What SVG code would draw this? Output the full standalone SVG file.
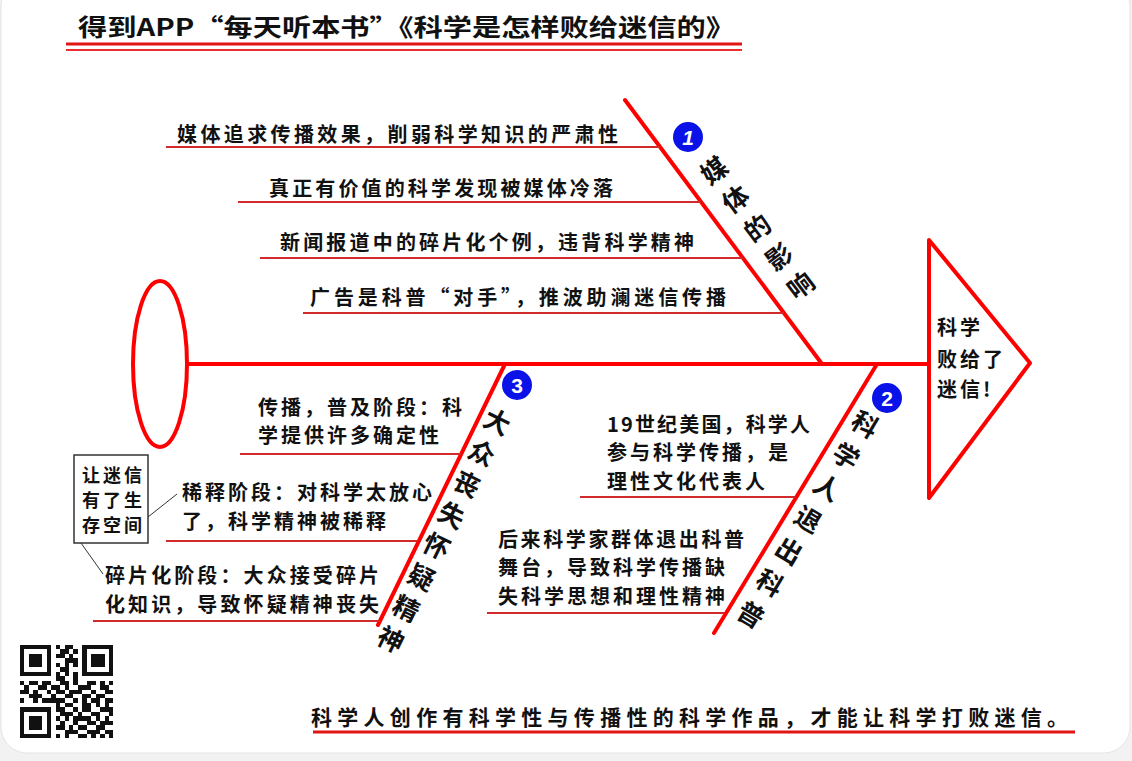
<svg xmlns="http://www.w3.org/2000/svg" width="1132" height="761" viewBox="0 0 1132 761">
<style>
.t{font-family:"Noto Sans CJK SC","Noto Sans",sans-serif;font-weight:700;fill:#111}
.lb{font-size:20px;letter-spacing:3px}
.vt{font-size:26px;writing-mode:vertical-rl}
.red{fill:none;stroke:#f00;stroke-width:4;stroke-linejoin:round;stroke-linecap:round}
.ul{stroke:#d22a2a;stroke-width:2;fill:none}
.num{fill:#0a12e8}
.nt{font-family:"Liberation Sans",Arial,sans-serif;font-weight:700;font-size:21px;fill:#fff;text-anchor:middle}
.thin{stroke:#333;stroke-width:1;fill:none}
</style>
<rect x="0" y="0" width="1132" height="761" fill="#f2f2f2"/>
<rect x="1" y="-20" width="1129" height="773" rx="26" fill="#fff" stroke="#e4e4e4" stroke-width="1"/>

<g id="title">
<text class="t" x="78" y="36" font-size="24" textLength="657" lengthAdjust="spacingAndGlyphs">得到APP“每天听本书”《科学是怎样败给迷信的》</text>
<line x1="66" y1="44" x2="742" y2="44" stroke="#e01515" stroke-width="3"/>
<line x1="66" y1="50" x2="742" y2="50" stroke="#e83030" stroke-width="2"/>
</g>

<g id="connectors">
<line class="red" x1="187" y1="364" x2="928" y2="364" stroke-width="5"/>
<line class="red" x1="625" y1="100" x2="822" y2="364"/>
<line class="red" x1="877" y1="364" x2="714" y2="633"/>
<line class="red" x1="505" y1="364" x2="378" y2="625"/>
</g>

<g id="tail">
<ellipse class="red" cx="160" cy="364" rx="27" ry="83"/>
</g>

<g id="head">
<polygon class="red" points="929,240 1030,363 929,498"/>
<text class="t lb" x="937" y="335">科学</text>
<text class="t lb" x="937" y="367">败给了</text>
<text class="t lb" x="937" y="397">迷信!</text>
</g>

<g id="branch-1">
<circle class="num" cx="688" cy="137" r="15"/>
<text class="nt" x="688" y="145" font-style="italic">1</text>
<text class="t vt" transform="translate(706,160) rotate(-37)" style="letter-spacing:10px">媒体的影响</text>
<line class="ul" x1="166" y1="147" x2="660" y2="147"/>
<line class="ul" x1="238" y1="202" x2="701" y2="202"/>
<line class="ul" x1="260" y1="258" x2="743" y2="258"/>
<line class="ul" x1="303" y1="313" x2="784" y2="313"/>
<text class="t lb" x="177" y="142" textLength="444">媒体追求传播效果，削弱科学知识的严肃性</text>
<text class="t lb" x="269" y="196" textLength="347">真正有价值的科学发现被媒体冷落</text>
<text class="t lb" x="280" y="250" textLength="417">新闻报道中的碎片化个例，违背科学精神</text>
<text class="t lb" x="310" y="305" textLength="419">广告是科普“对手”，推波助澜迷信传播</text>
</g>

<g id="branch-2">
<circle class="num" cx="887" cy="398" r="15"/>
<text class="nt" x="887" y="406">2</text>
<text class="t vt" transform="translate(872,413) rotate(31)" style="letter-spacing:11px">科学人退出科普</text>
<line class="ul" x1="580" y1="497" x2="795" y2="497"/>
<line class="ul" x1="487" y1="613" x2="724" y2="613"/>
<text class="t lb" x="607" y="432" textLength="206">19世纪美国，科学人</text>
<text class="t lb" x="607" y="460">参与科学传播，是</text>
<text class="t lb" x="607" y="489">理性文化代表人</text>
<text class="t lb" x="498" y="547" textLength="249">后来科学家群体退出科普</text>
<text class="t lb" x="498" y="575">舞台，导致科学传播缺</text>
<text class="t lb" x="498" y="604">失科学思想和理性精神</text>
</g>

<g id="branch-3">
<circle class="num" cx="517" cy="385" r="15"/>
<text class="nt" x="517" y="393">3</text>
<text class="t vt" transform="translate(503,410) rotate(26)" style="letter-spacing:8.6px">大众丧失怀疑精神</text>
<line class="ul" x1="240" y1="454" x2="461" y2="454"/>
<line class="ul" x1="166" y1="541" x2="418" y2="541"/>
<line class="ul" x1="93" y1="621" x2="380" y2="621"/>
<text class="t lb" x="258" y="415" textLength="207">传播，普及阶段：科</text>
<text class="t lb" x="258" y="443">学提供许多确定性</text>
<text class="t lb" x="182" y="500" textLength="253">稀释阶段：对科学太放心</text>
<text class="t lb" x="182" y="529">了，科学精神被稀释</text>
<text class="t lb" x="105" y="583" textLength="277">碎片化阶段：大众接受碎片</text>
<text class="t lb" x="105" y="612" textLength="277">化知识，导致怀疑精神丧失</text>
</g>

<g id="note">
<rect x="74" y="455" width="74" height="88" fill="#fff" stroke="#333" stroke-width="1.5"/>
<text class="t" x="82" y="482" font-size="18" style="letter-spacing:3px">让迷信</text>
<text class="t" x="82" y="507" font-size="18" style="letter-spacing:3px">有了生</text>
<text class="t" x="82" y="532" font-size="18" style="letter-spacing:3px">存空间</text>
<line class="thin" x1="148" y1="517" x2="177" y2="494"/>
<line class="thin" x1="81" y1="543" x2="103" y2="574"/>
</g>

<g id="qr" fill="#111" shape-rendering="crispEdges" transform="translate(20,645) scale(4.45)">
<path d="M0 0h7v1h-7zM8 0h1v1h-1zM10 0h2v1h-2zM14 0h7v1h-7z
M0 1h1v1h-1zM6 1h1v1h-1zM9 1h2v1h-2zM12 1h1v1h-1zM14 1h1v1h-1zM20 1h1v1h-1z
M0 2h1v1h-1zM2 2h3v1h-3zM6 2h1v1h-1zM8 2h2v1h-2zM11 2h1v1h-1zM14 2h1v1h-1zM16 2h3v1h-3zM20 2h1v1h-1z
M0 3h1v1h-1zM2 3h3v1h-3zM6 3h1v1h-1zM10 3h3v1h-3zM14 3h1v1h-1zM16 3h3v1h-3zM20 3h1v1h-1z
M0 4h1v1h-1zM2 4h3v1h-3zM6 4h1v1h-1zM8 4h1v1h-1zM10 4h1v1h-1zM12 4h1v1h-1zM14 4h1v1h-1zM16 4h3v1h-3zM20 4h1v1h-1z
M0 5h1v1h-1zM6 5h1v1h-1zM9 5h2v1h-2zM14 5h1v1h-1zM20 5h1v1h-1z
M0 6h7v1h-7zM8 6h1v1h-1zM10 6h1v1h-1zM12 6h1v1h-1zM14 6h7v1h-7z
M8 7h2v1h-2zM12 7h1v1h-1z
M0 8h1v1h-1zM2 8h2v1h-2zM5 8h2v1h-2zM9 8h2v1h-2zM12 8h1v1h-1zM15 8h2v1h-2zM18 8h1v1h-1zM20 8h1v1h-1z
M1 9h1v1h-1zM4 9h2v1h-2zM7 9h2v1h-2zM10 9h1v1h-1zM13 9h3v1h-3zM18 9h2v1h-2z
M0 10h2v1h-2zM3 10h1v1h-1zM6 10h1v1h-1zM8 10h2v1h-2zM11 10h3v1h-3zM16 10h1v1h-1zM19 10h2v1h-2z
M2 11h3v1h-3zM7 11h1v1h-1zM10 11h2v1h-2zM14 11h2v1h-2zM17 11h2v1h-2z
M0 12h1v1h-1zM3 12h1v1h-1zM5 12h5v1h-5zM12 12h1v1h-1zM14 12h1v1h-1zM16 12h2v1h-2zM19 12h2v1h-2z
M8 13h1v1h-1zM10 13h2v1h-2zM14 13h2v1h-2zM17 13h1v1h-1zM19 13h1v1h-1z
M0 14h7v1h-7zM8 14h2v1h-2zM12 14h1v1h-1zM14 14h2v1h-2zM18 14h3v1h-3z
M0 15h1v1h-1zM6 15h1v1h-1zM9 15h3v1h-3zM13 15h1v1h-1zM16 15h2v1h-2zM20 15h1v1h-1z
M0 16h1v1h-1zM2 16h3v1h-3zM6 16h1v1h-1zM8 16h1v1h-1zM10 16h1v1h-1zM12 16h4v1h-4zM17 16h1v1h-1zM19 16h1v1h-1z
M0 17h1v1h-1zM2 17h3v1h-3zM6 17h1v1h-1zM9 17h1v1h-1zM12 17h1v1h-1zM15 17h2v1h-2zM18 17h3v1h-3z
M0 18h1v1h-1zM2 18h3v1h-3zM6 18h1v1h-1zM8 18h2v1h-2zM11 18h1v1h-1zM13 18h2v1h-2zM17 18h2v1h-2z
M0 19h1v1h-1zM6 19h1v1h-1zM10 19h3v1h-3zM15 19h3v1h-3zM19 19h2v1h-2z
M0 20h7v1h-7zM8 20h1v1h-1zM10 20h1v1h-1zM13 20h2v1h-2zM16 20h1v1h-1zM18 20h1v1h-1zM20 20h1v1h-1z"/>
</g>

<g id="conclusion">
<text class="t" x="311" y="725" font-size="21" textLength="757">科学人创作有科学性与传播性的科学作品，才能让科学打败迷信。</text>
<line x1="313" y1="732" x2="1075" y2="732" stroke="#e01515" stroke-width="3"/>
</g>
</svg>
